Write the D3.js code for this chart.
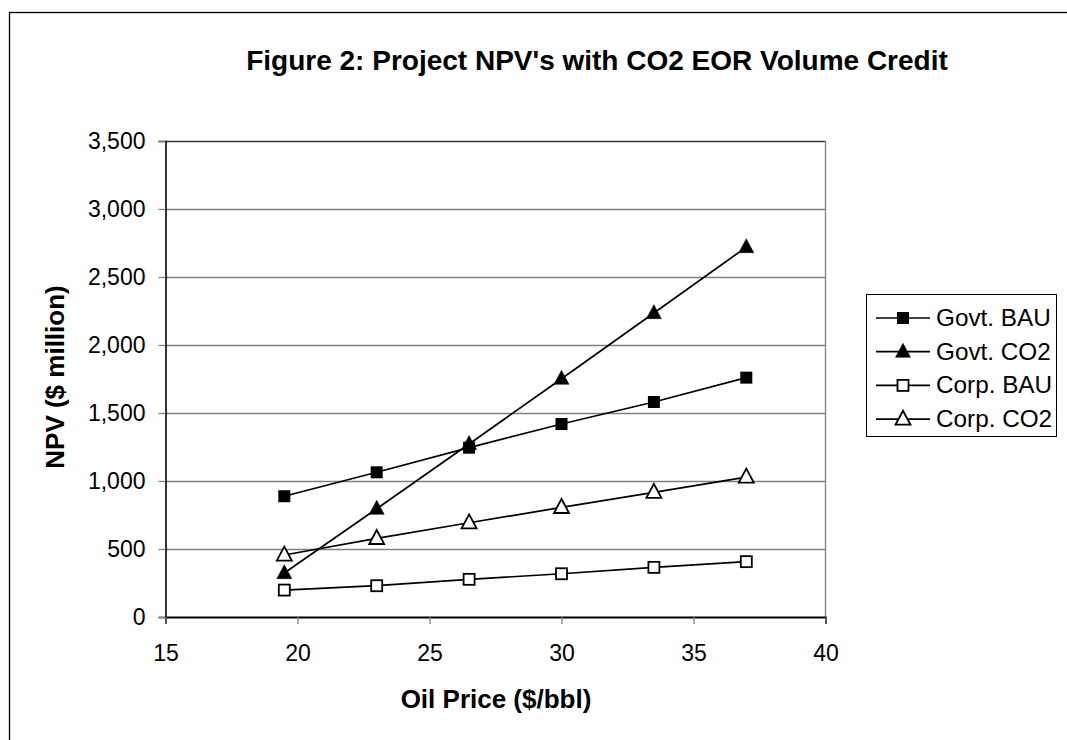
<!DOCTYPE html>
<html><head><meta charset="utf-8">
<script src="https://cdn.jsdelivr.net/npm/d3@7"></script>
<style>
body{margin:0;background:#fff;}
svg{font-family:"Liberation Sans",Arial,sans-serif;}
</style></head>
<body><svg id="chart" width="1067" height="740"></svg>
<script>
const oilPrice = [19.5, 23, 26.5, 30, 33.5, 37];
const govtBAU = [888, 1064, 1245, 1419, 1581, 1760];
const govtCO2 = [323, 796, 1272, 1752, 2235, 2720];
const corpBAU = [198, 230, 277, 318, 365, 407];
const corpCO2 = [456, 578, 693, 806, 917, 1029];
const seriesNames = ["Govt. BAU", "Govt. CO2", "Corp. BAU", "Corp. CO2"];
const xTicks = [15, 20, 25, 30, 35, 40];
const yTicks = [0, 500, 1000, 1500, 2000, 2500, 3000, 3500];

const series = [
  {name: seriesNames[0], values: govtBAU, shape: "square", fill: "#000"},
  {name: seriesNames[1], values: govtCO2, shape: "triangle", fill: "#000"},
  {name: seriesNames[2], values: corpBAU, shape: "square", fill: "#fff"},
  {name: seriesNames[3], values: corpCO2, shape: "triangle", fill: "#fff"}
];

const svg = d3.select("#chart");
const L = 165.5, R = 825.5, T = 141, B = 617;
const x = d3.scaleLinear().domain([15, 40]).range([L, R]);
const y = d3.scaleLinear().domain([0, 3500]).range([B, T]);
const FF = "Liberation Sans, Arial, sans-serif";

// outer border
svg.append("rect").attr("x", 9.5).attr("y", 12.5).attr("width", 1070).attr("height", 740)
  .attr("fill", "none").attr("stroke", "#000").attr("stroke-width", 1.3);

// title
svg.append("text").attr("x", 597).attr("y", 70).attr("text-anchor", "middle")
  .attr("font-size", 28).attr("font-weight", "bold").text("Figure 2: Project NPV's with CO2 EOR Volume Credit");

// gridlines
svg.append("g").selectAll("line").data(yTicks.filter(d => d > 0)).join("line")
  .attr("x1", L).attr("x2", R).attr("y1", d => Math.round(y(d)) + 0.5).attr("y2", d => Math.round(y(d)) + 0.5)
  .attr("stroke", d => d === 3500 ? "#333" : "#808080").attr("stroke-width", 1.3);
// right border
svg.append("line").attr("x1", R).attr("x2", R).attr("y1", T).attr("y2", B).attr("stroke", "#808080").attr("stroke-width", 1.3);

// axes
const yAxis = d3.axisLeft(y).tickValues(yTicks).tickSize(7).tickPadding(13).tickFormat(d3.format(","));
const gy = svg.append("g").attr("transform", `translate(${L},0)`).call(yAxis);
gy.select(".domain").attr("stroke", "#000").attr("stroke-width", 1.6);
gy.selectAll(".tick line").attr("stroke", "#808080").attr("stroke-width", 1.3);
gy.selectAll("text").attr("font-size", 23).attr("font-family", FF).attr("fill", "#000");

const xAxis = d3.axisBottom(x).tickValues(xTicks).tickSize(7).tickPadding(21);
const gx = svg.append("g").attr("transform", `translate(0,${B})`).call(xAxis);
gx.select(".domain").attr("stroke", "#000").attr("stroke-width", 2);
gx.selectAll(".tick line").attr("stroke", "#808080").attr("stroke-width", 1.3);
gx.selectAll("text").attr("font-size", 23).attr("font-family", FF).attr("fill", "#000");

// axis titles
svg.append("text").attr("x", 496).attr("y", 708).attr("text-anchor", "middle")
  .attr("font-size", 26).attr("font-weight", "bold").text("Oil Price ($/bbl)");
svg.append("text").attr("transform", "translate(64,377) rotate(-90)").attr("text-anchor", "middle")
  .attr("font-size", 26).attr("font-weight", "bold").text("NPV ($ million)");

// marker drawing
function marker(g, shape, fill, cx, cy) {
  if (shape === "square") {
    const s = fill === "#000" ? 12 : 11;
    g.append("rect").attr("x", cx - s / 2).attr("y", cy - s / 2).attr("width", s).attr("height", s)
      .attr("fill", fill).attr("stroke", "#000").attr("stroke-width", fill === "#000" ? 0 : 1.8);
  } else {
    const h = 14, w = 15;
    g.append("path").attr("d", `M${cx},${cy - h * 0.6}L${cx + w / 2},${cy + h * 0.4}L${cx - w / 2},${cy + h * 0.4}Z`)
      .attr("fill", fill).attr("stroke", "#000").attr("stroke-width", fill === "#000" ? 0.5 : 1.8);
  }
}

const line = d3.line().x(d => x(d[0])).y(d => y(d[1]));
const plot = svg.append("g");
series.forEach(s => {
  const pts = oilPrice.map((p, i) => [p, s.values[i]]);
  plot.append("path").attr("d", line(pts)).attr("fill", "none").attr("stroke", "#000").attr("stroke-width", 1.7);
});
series.forEach(s => {
  const g = plot.append("g");
  oilPrice.forEach((p, i) => marker(g, s.shape, s.fill, x(p), y(s.values[i])));
});

// legend
const lg = svg.append("g");
lg.append("rect").attr("x", 866.5).attr("y", 294.5).attr("width", 190).attr("height", 142)
  .attr("fill", "#fff").attr("stroke", "#000").attr("stroke-width", 1);
series.forEach((s, i) => {
  const cy = 318 + i * 33.7;
  lg.append("line").attr("x1", 876).attr("x2", 930).attr("y1", cy).attr("y2", cy).attr("stroke", "#000").attr("stroke-width", 1.7);
  marker(lg, s.shape, s.fill, 903, cy);
  lg.append("text").attr("x", 936).attr("y", cy + 8).attr("font-size", 24.3).text(s.name);
});
</script></body></html>
